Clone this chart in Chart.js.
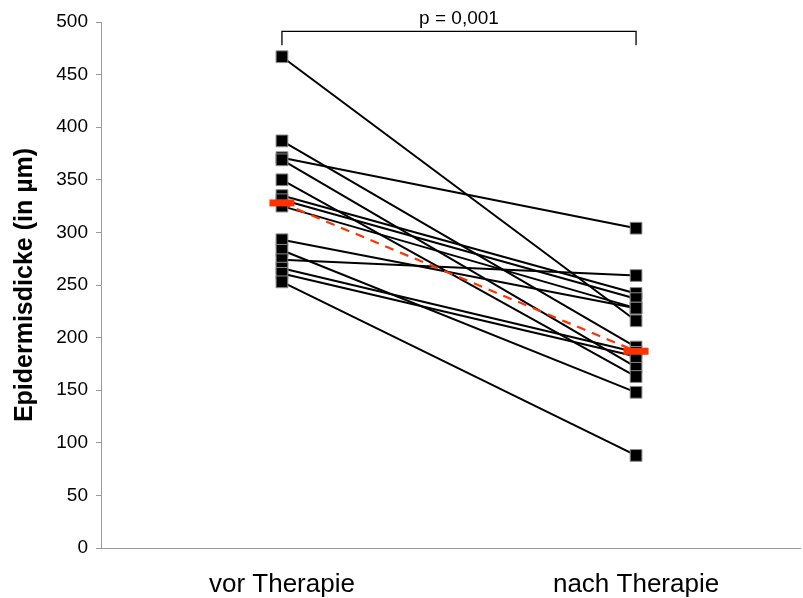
<!DOCTYPE html>
<html>
<head>
<meta charset="utf-8">
<script src="https://cdn.jsdelivr.net/npm/chart.js@4"></script>
<style>
  html, body { margin: 0; padding: 0; background: #fff; }
  #wrap { width: 803px; height: 598px; }
</style>
</head>
<body>
<div id="wrap"><canvas id="c" width="803" height="598"></canvas></div>
<script>
// ---- data ----
const categories = ["vor Therapie", "nach Therapie"];
const vorTherapie  = [467, 387, 371, 369, 350, 335, 331, 325, 293, 283, 274, 266, 261, 253];
const nachTherapie = [216, 191, 304, 172, 163, 242, 237, 228, 228, 148, 259, 186, 182, 88];
const meanValues = [328, 187];
const yTicks = [0, 50, 100, 150, 200, 250, 300, 350, 400, 450, 500];
const xRange = [0.489, 2.463];
const bracketLevels = [478, 491];
const pLabel = "p = 0,001";
const yTitle = "Epidermisdicke (in µm)";

const FONT = "'Liberation Sans', Arial, Helvetica, sans-serif";

const datasets = [];
// red mean bars
datasets.push({
  type: 'scatter',
  data: meanValues.map((v, i) => ({ x: i + 1, y: v })),
  pointStyle: 'line',
  pointRadius: 12.5,
  pointBorderWidth: 7,
  pointBorderColor: '#ff3300',
  pointBackgroundColor: '#ff3300',
  showLine: false,
  order: 0
});
// red dashed mean line
datasets.push({
  type: 'line',
  data: meanValues.map((v, i) => ({ x: i + 1, y: v })),
  borderColor: '#ff3300',
  borderWidth: 2.2,
  borderDash: [9, 7],
  pointRadius: 0,
  order: 1
});
// markers
const pts = [];
vorTherapie.forEach(v => pts.push({ x: 1, y: v }));
nachTherapie.forEach(v => pts.push({ x: 2, y: v }));
datasets.push({
  type: 'scatter',
  data: pts,
  pointStyle: 'rect',
  pointRadius: 8.3,
  pointBackgroundColor: '#000',
  pointBorderColor: '#8a8a8a',
  pointBorderWidth: 1,
  order: 2
});
// pair lines
vorTherapie.forEach((v, i) => {
  datasets.push({
    type: 'line',
    data: [{ x: 1, y: v }, { x: 2, y: nachTherapie[i] }],
    borderColor: '#000',
    borderWidth: 2,
    pointRadius: 0,
    order: 3
  });
});

const bracketPlugin = {
  id: 'bracket',
  afterDatasetsDraw(chart) {
    const { ctx, scales: { x, y } } = chart;
    const x1 = x.getPixelForValue(1), x2 = x.getPixelForValue(2);
    const yLow = y.getPixelForValue(bracketLevels[0]);
    const yTop = y.getPixelForValue(bracketLevels[1]);
    ctx.save();
    ctx.strokeStyle = '#000';
    ctx.lineWidth = 1.3;
    ctx.beginPath();
    ctx.moveTo(x1, yLow);
    ctx.lineTo(x1, yTop);
    ctx.lineTo(x2, yTop);
    ctx.lineTo(x2, yLow);
    ctx.stroke();
    ctx.fillStyle = '#000';
    ctx.font = "19px " + FONT;
    ctx.textAlign = 'center';
    ctx.textBaseline = 'bottom';
    ctx.fillText(pLabel, (x1 + x2) / 2, yTop - 3);
    ctx.restore();
  }
};

new Chart(document.getElementById('c'), {
  type: 'scatter',
  data: { datasets },
  plugins: [bracketPlugin],
  options: {
    responsive: false,
    animation: false,
    events: [],
    layout: { autoPadding: false, padding: { top: 22, right: 3, left: 0, bottom: 0 } },
    plugins: { legend: { display: false }, tooltip: { enabled: false } },
    scales: {
      x: {
        type: 'linear',
        min: xRange[0],
        max: xRange[1],
        afterBuildTicks: (axis) => { axis.ticks = categories.map((c, i) => ({ value: i + 1 })); },
        afterFit: (scale) => { scale.height = 50; scale.paddingLeft = 0; scale.paddingRight = 0; },
        grid: { display: false, drawTicks: false },
        border: { display: true, color: '#9a9a9a', width: 1 },
        ticks: {
          callback: (v) => categories[Math.round(v) - 1],
          color: '#000',
          font: { family: FONT, size: 26 },
          padding: 21,
          maxRotation: 0,
          autoSkip: false
        }
      },
      y: {
        min: yTicks[0],
        max: yTicks[yTicks.length - 1],
        afterBuildTicks: (axis) => { axis.ticks = yTicks.map(v => ({ value: v })); },
        afterFit: (scale) => { scale.width = 101; scale.paddingTop = 0; scale.paddingBottom = 0; },
        grid: { display: true, drawOnChartArea: false, drawTicks: true, tickLength: 5, color: '#9a9a9a' },
        border: { display: true, color: '#9a9a9a', width: 1 },
        ticks: {
          color: '#000',
          font: { family: FONT, size: 19 },
          padding: 8
        },
        title: {
          display: true,
          text: yTitle,
          color: '#000',
          font: { family: FONT, size: 25, weight: 'bold' },
          padding: { top: 10, bottom: 0 }
        }
      }
    }
  }
});
</script>
</body>
</html>
